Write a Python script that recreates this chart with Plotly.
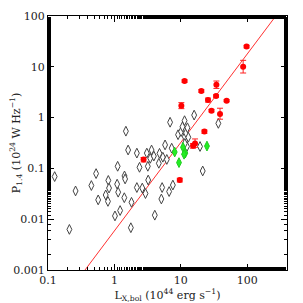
import numpy as np
import plotly.graph_objects as go

# Detections (red)
det_L = [98, 87, 11.4, 20.4, 34.4, 34, 25.7, 49, 10.2, 29, 39, 22.7, 16.4, 15.3, 2.75, 9.66]
det_P = [25, 10, 5.25, 3.35, 4.45, 2.66, 2.22, 2.15, 1.72, 1.37, 1.18, 0.53, 0.31, 0.28, 0.149, 0.059]
det_Pup = [1.5, 3.4, 0.3, 0.2, 0.8, 0.15, 0.2, 0.1, 0.25, 0.08, 0.35, 0.04, 0.07, 0.03, 0.015, 0.005]
det_Pdn = [1.5, 2.45, 0.3, 0.2, 0.7, 0.15, 0.2, 0.1, 0.22, 0.08, 0.25, 0.04, 0.05, 0.03, 0.015, 0.005]

# Upper limits (green)
gr_L = [8.1, 10.8, 11.7, 9.4, 24.8, 11.2]
gr_P = [0.21, 0.26, 0.2, 0.13, 0.275, 0.19]

# Upper limits (open)
ul_L = [0.126, 0.21, 0.26, 0.45, 0.53, 0.57, 0.74, 0.8, 0.81, 0.83, 1.02, 1.1, 1.12, 1.14, 1.22,
        1.42, 1.45, 1.41, 1.49, 1.61, 1.77, 1.81, 2.18, 2.18, 2.39, 2.63, 2.94, 3.08, 3.23, 3.19,
        3.47, 3.63, 3.93, 4.06, 4.67, 4.78, 5.1, 5.24, 5.37, 5.8, 6.16, 6.68, 6.9, 7.3, 7.6,
        9.1, 10.1, 10.6, 11.4, 11.5, 12, 12.6, 13, 12.4, 11.5, 15.9, 19.5, 21.4, 36.8]
ul_P = [0.069, 0.0063, 0.036, 0.046, 0.079, 0.024, 0.030, 0.0224, 0.058, 0.041, 0.0116, 0.049, 0.11, 0.034, 0.0148,
        0.071, 0.062, 0.0265, 0.54, 0.23, 0.0068, 0.0215, 0.2, 0.042, 0.105, 0.041, 0.032, 0.2, 0.059, 0.11,
        0.158, 0.23, 0.175, 0.012, 0.126, 0.198, 0.025, 0.042, 0.166, 0.29, 0.15, 0.035, 0.81, 0.25, 0.047,
        0.46, 0.53, 0.66, 0.87, 0.42, 0.5, 0.63, 0.41, 0.27, 0.31, 1.12, 0.27, 0.089, 0.77]

# Fit line parameters
fit_slope = 1.74
fit_norm = -2.23
fit_x = np.logspace(-1, 2.6, 200)
fit_y = 10 ** fit_norm * fit_x ** fit_slope

fig = go.Figure()
fig.add_trace(go.Scatter(x=fit_x, y=fit_y, mode="lines",
                         line=dict(color="#ff3030", width=1), hoverinfo="skip"))
fig.add_trace(go.Scatter(x=ul_L, y=ul_P, mode="markers",
                         marker=dict(symbol="diamond-tall", size=7, color="white",
                                     line=dict(color="#444444", width=1))))
fig.add_trace(go.Scatter(x=gr_L, y=gr_P, mode="markers",
                         marker=dict(symbol="diamond-tall", size=7, color="#22ee22",
                                     line=dict(color="#22cc22", width=1))))
fig.add_trace(go.Scatter(x=det_L, y=det_P, mode="markers",
                         error_y=dict(type="data", array=det_Pup, arrayminus=det_Pdn,
                                      color="#ff2020", thickness=1, width=3),
                         marker=dict(symbol="circle", size=6, color="#ff0000",
                                     line=dict(color="#ff0000", width=0))))

axis_common = dict(type="log", showgrid=False, zeroline=False, showline=True, linecolor="black",
                   linewidth=1, mirror="ticks", ticks="inside", ticklen=6, tickcolor="black",
                   automargin=False,
                   minor=dict(ticks="inside", ticklen=3, tickcolor="black", showgrid=False),
                   tickfont=dict(family="DejaVu Serif", size=11, color="#222222"))

fig.update_xaxes(range=[-1, 2.6], tickvals=[0.1, 1, 10, 100], ticktext=["0.1", "1", "10", "100"],
                 title=dict(text="L<sub>X,bol</sub> (10<sup>44</sup> erg s<sup>−1</sup>)",
                            font=dict(family="DejaVu Serif", size=11, color="#222222"), standoff=2),
                 **axis_common)
fig.update_yaxes(range=[-3, 2], tickvals=[0.001, 0.01, 0.1, 1, 10, 100],
                 ticktext=["0.001", "0.01", "0.1", "1", "10", "100"],
                 title=dict(text="P<sub>1.4</sub> (10<sup>24</sup> W Hz<sup>−1</sup>)",
                            font=dict(family="DejaVu Serif", size=11, color="#222222"), standoff=2),
                 **axis_common)

fig.update_layout(width=295, height=295, margin=dict(l=40, r=16, t=8, b=33),
                  plot_bgcolor="white", paper_bgcolor="white", showlegend=False)

fig.write_html("out.html")
